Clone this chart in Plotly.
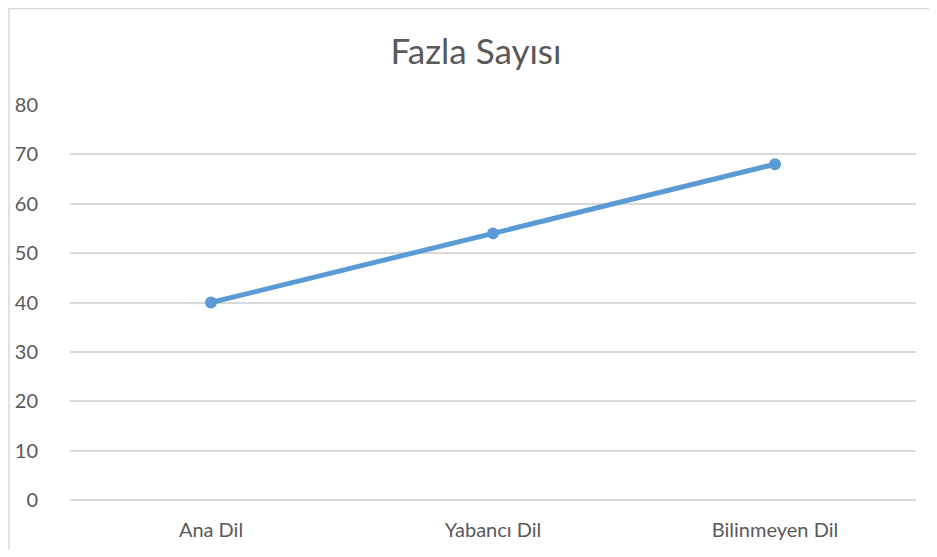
import plotly.graph_objects as go

categories = ["Ana Dil", "Yabancı Dil", "Bilinmeyen Dil"]
values = [40, 54, 68]
y_ticks = [0, 10, 20, 30, 40, 50, 60, 70, 80]

# page body has an 8px margin; figure sits at (8, 8); keep it inside the viewport
OFF = 8
W, H = 937 - 2 * OFF, 557 - 2 * OFF
L, T = 70 - OFF, 105 - OFF
R = W - (916 - OFF)
B = H - (500 - OFF)
pw, ph = W - L - R, H - T - B

fig = go.Figure()
fig.add_trace(go.Scatter(
    x=categories, y=values, mode="lines+markers",
    line=dict(color="#5B9BD5", width=5),
    marker=dict(color="#5B9BD5", size=12),
    showlegend=False,
))

fig.update_layout(
    width=W, height=H,
    margin=dict(l=L, r=R, t=T, b=B, autoexpand=False),
    paper_bgcolor="white", plot_bgcolor="white",
    font=dict(family="Lato, Open Sans, sans-serif", color="#595959", size=20),
    title=dict(text="Fazla Sayısı", x=(476 - OFF) / W, xref="container",
               y=1 - (52 - OFF) / H, yref="container", xanchor="center", yanchor="middle",
               font=dict(size=35, color="#595959")),
    xaxis=dict(showgrid=False, zeroline=False, showline=False, automargin=False,
               ticks="outside", ticklen=12, tickcolor="rgba(0,0,0,0)",
               range=[-0.5, 2.5]),
    yaxis=dict(range=[0, 80], tickvals=y_ticks, showgrid=True, automargin=False,
               gridcolor="#d9d9d9", gridwidth=1.5,
               zeroline=True, zerolinecolor="#d9d9d9", zerolinewidth=1.5,
               showline=False,
               ticks="outside", ticklen=27, tickcolor="rgba(0,0,0,0)"),
    shapes=[dict(type="rect", xref="paper", yref="paper",
                 x0=(1 - L) / pw, x1=1.2, y0=-0.3, y1=(ph + T - 0.5) / ph,
                 line=dict(color="#d9d9d9", width=1.5), layer="below")],
)

fig.write_html("out.html")
